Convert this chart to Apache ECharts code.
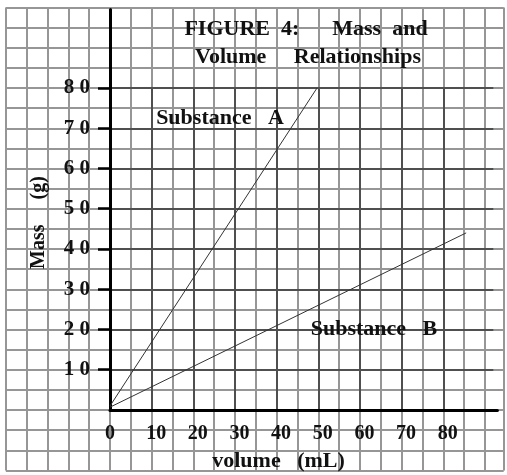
<!DOCTYPE html>
<html><head><meta charset="utf-8">
<script src="https://cdn.jsdelivr.net/npm/echarts@6/dist/echarts.min.js"></script>
<style>html,body{margin:0;padding:0;background:#fff}#c{width:507px;height:475px}</style>
</head><body><div id="c"></div><script>
// ---- data ----
const volumeA = [0, 49.7];
const massA = [1, 80];
const volumeB = [0, 85.5];
const massB = [0.7, 44];
const xTickValues = [0, 10, 20, 30, 40, 50, 60, 70, 80];
const yTickValues = [10, 20, 30, 40, 50, 60, 70, 80];
const titleLines = ['FIGURE  4:      Mass  and', 'Volume     Relationships'];
const xName = 'volume   (mL)';
const yName = 'Mass     (g)';
const labelA = 'Substance   A';
const labelB = 'Substance   B';

const FF = '"Liberation Serif", "Times New Roman", serif';
const INK = '#111';
const PAPER = '#969696';
const DARK = '#4f4f4f';

function pairs(xs, ys) { return xs.map((x, i) => [x, ys[i]]); }
function hiddenAxisBits() {
  return { axisLine: { show: false }, axisTick: { show: false }, axisLabel: { show: false } };
}

const chart = echarts.init(document.getElementById('c'), null, { renderer: 'canvas' });
const txt = (s, size) => ({ text: s, fontSize: size, fontWeight: 'bold', fontFamily: FF, fill: INK, align: 'center', verticalAlign: 'middle' });

chart.setOption({
  animation: false,
  backgroundColor: '#fff',
  grid: [
    { left: 110, right: 9.6, top: 9.5, bottom: 65 },      // 0 main axes + data
    { left: 5.85, right: 3.3, top: 7.5, bottom: 4.6 },    // 1 graph paper
    { left: 110, right: 63.7, top: 88, bottom: 65 },      // 2 dark verticals
    { left: 110, right: 13.7, top: 88, bottom: 65 }       // 3 dark horizontals
  ],
  xAxis: [
    {
      gridIndex: 0, type: 'value', min: 0, max: 93, z: 3,
      splitLine: { show: false },
      axisLine: { show: true, lineStyle: { color: '#000', width: 3 } },
      axisTick: { show: false },
      axisLabel: {
        customValues: xTickValues, margin: 14,
        formatter: v => v === 0 ? '{z|0}' : '{n|' + v + '}',
        rich: {
          z: { fontSize: 20, fontWeight: 'bold', fontFamily: FF, color: INK },
          n: { fontSize: 20, fontWeight: 'bold', fontFamily: FF, color: INK, padding: [0, 0, 0, 9] }
        }
      }
    },
    Object.assign({ gridIndex: 1, type: 'value', min: -25, max: 94.5, interval: 5, z: 0,
      splitLine: { show: true, lineStyle: { color: PAPER, width: 2 } } }, hiddenAxisBits()),
    Object.assign({ gridIndex: 2, type: 'value', min: 0, max: 80, interval: 10, z: 1,
      splitLine: { show: true, lineStyle: { color: DARK, width: 2 } } }, hiddenAxisBits()),
    Object.assign({ gridIndex: 3, type: 'value', min: 0, max: 92, interval: 10, z: 1,
      splitLine: { show: false } }, hiddenAxisBits())
  ],
  yAxis: [
    {
      gridIndex: 0, type: 'value', min: 0, max: 99.5, z: 3,
      splitLine: { show: false },
      axisLine: { show: true, lineStyle: { color: '#000', width: 3 } },
      axisTick: { show: true, customValues: yTickValues, length: 12, lineStyle: { color: '#000', width: 2.5 } },
      axisLabel: {
        customValues: yTickValues, margin: 20,
        fontSize: 21, fontWeight: 'bold', fontFamily: FF, color: INK, padding: [4, 0, 0, 0],
        formatter: v => String(v).split('').join(' ')
      }
    },
    Object.assign({ gridIndex: 1, type: 'value', min: -15, max: 100, interval: 5, z: 0,
      splitLine: { show: true, lineStyle: { color: PAPER, width: 2 } } }, hiddenAxisBits()),
    Object.assign({ gridIndex: 2, type: 'value', min: 0, max: 80, interval: 10, z: 1,
      splitLine: { show: false } }, hiddenAxisBits()),
    Object.assign({ gridIndex: 3, type: 'value', min: 0, max: 80, interval: 10, z: 1,
      splitLine: { show: true, lineStyle: { color: DARK, width: 2 } } }, hiddenAxisBits())
  ],
  series: [
    { name: 'Substance A', type: 'line', xAxisIndex: 0, yAxisIndex: 0, z: 5, silent: true,
      showSymbol: false, symbol: 'none', data: pairs(volumeA, massA),
      lineStyle: { color: '#333', width: 1 } },
    { name: 'Substance B', type: 'line', xAxisIndex: 0, yAxisIndex: 0, z: 5, silent: true,
      showSymbol: false, symbol: 'none', data: pairs(volumeB, massB),
      lineStyle: { color: '#333', width: 1 } }
  ],
  graphic: [
    { type: 'text', x: 306, y: 29, z: 10, style: txt(titleLines[0], 22) },
    { type: 'text', x: 308, y: 57, z: 10, style: txt(titleLines[1], 22) },
    { type: 'text', x: 220, y: 118, z: 10, style: txt(labelA, 22) },
    { type: 'text', x: 374, y: 329, z: 10, style: txt(labelB, 22) },
    { type: 'text', x: 278.5, y: 461, z: 10, style: txt(xName, 22) },
    { type: 'text', x: 39, y: 222.5, z: 10, rotation: Math.PI / 2, style: txt(yName, 20) }
  ]
});
</script></body></html>
